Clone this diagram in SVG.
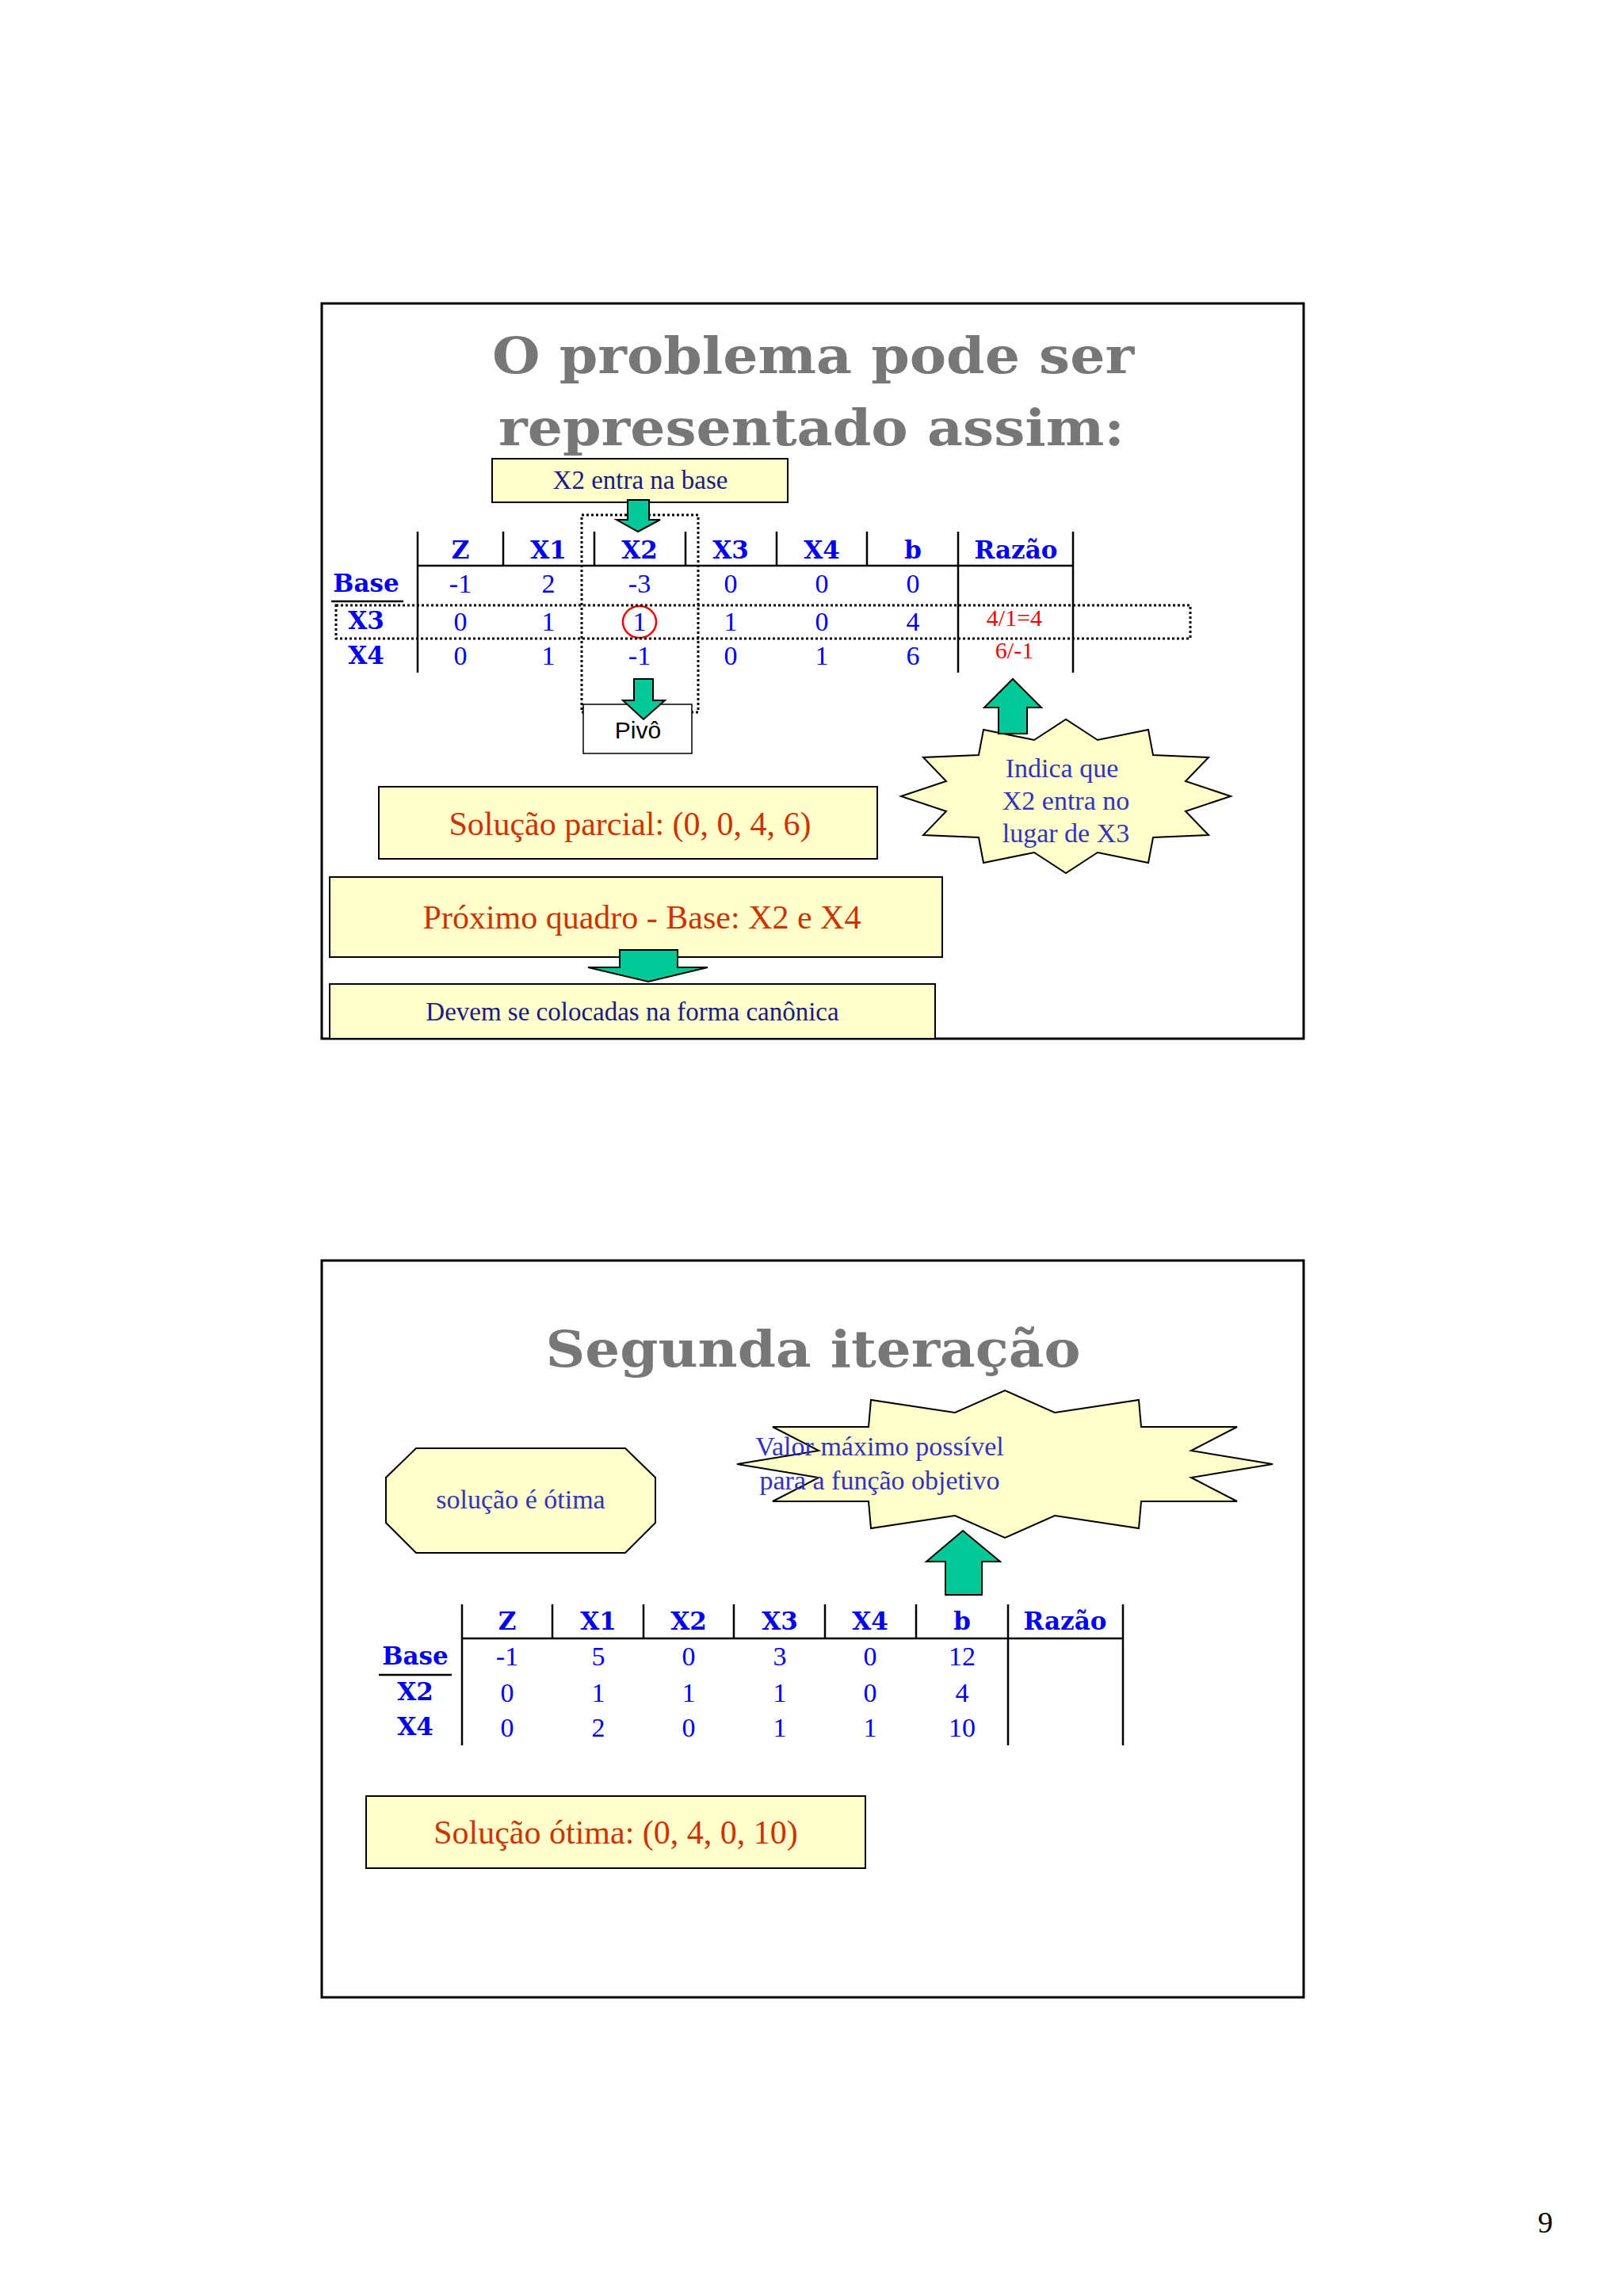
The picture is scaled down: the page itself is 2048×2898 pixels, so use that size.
<svg xmlns="http://www.w3.org/2000/svg" width="2048" height="2898" viewBox="0 0 2048 2898">
<style>
.slide{fill:#fff;stroke:#000;stroke-width:3}
.title{font-family:"DejaVu Serif",serif;font-weight:bold;fill:#777;font-size:64px;text-anchor:middle}
.box{fill:#ffffcc;stroke:#000;stroke-width:2}
.arrow{fill:#00c896;stroke:#000;stroke-width:2}
.hd{font-family:"DejaVu Serif",serif;font-weight:bold;fill:#0000ee;font-size:31px;text-anchor:middle}
.v{font-family:"Liberation Serif",serif;fill:#0000ee;font-size:34px;text-anchor:middle}
.red{font-family:"Liberation Serif",serif;fill:#ee0000;font-size:30px;text-anchor:middle}
.ln{stroke:#000;stroke-width:2.5}
.dot{fill:none;stroke:#000;stroke-width:3;stroke-dasharray:3 3}
.nv{font-family:"Liberation Serif",serif;fill:#1a1a80;font-size:33px;text-anchor:middle}
.bl{font-family:"Liberation Serif",serif;fill:#3333bb;font-size:34px;text-anchor:middle}
.or{font-family:"Liberation Serif",serif;fill:#cc3300;font-size:42px;text-anchor:middle}
</style>
<rect width="2048" height="2898" fill="#fff"/>
<g id="slide1">
<rect class="slide" x="406" y="383" width="1239" height="928"/>
<text class="title" x="1026" y="471" textLength="810" lengthAdjust="spacingAndGlyphs">O problema pode ser</text>
<text class="title" x="1024" y="562" textLength="790" lengthAdjust="spacingAndGlyphs">representado assim:</text>
</g>
<g id="x2-entra">
<rect class="box" x="621" y="579" width="373" height="55"/>
<text class="nv" x="808" y="617">X2 entra na base</text>
</g>
<g id="table1">
<line class="ln" x1="527" y1="671" x2="527" y2="849"/>
<line class="ln" x1="1209" y1="671" x2="1209" y2="849"/>
<line class="ln" x1="1354" y1="671" x2="1354" y2="849"/>
<line class="ln" x1="635" y1="671" x2="635" y2="714"/>
<line class="ln" x1="750" y1="671" x2="750" y2="714"/>
<line class="ln" x1="865" y1="671" x2="865" y2="714"/>
<line class="ln" x1="980" y1="671" x2="980" y2="714"/>
<line class="ln" x1="1094" y1="671" x2="1094" y2="714"/>
<line class="ln" x1="527" y1="714" x2="1354" y2="714"/>
<line class="ln" x1="418" y1="759" x2="509" y2="759"/>
<text class="hd" x="581" y="705">Z</text><text class="hd" x="692" y="705">X1</text><text class="hd" x="807" y="705">X2</text><text class="hd" x="922" y="705">X3</text><text class="hd" x="1037" y="705">X4</text><text class="hd" x="1152" y="705">b</text><text class="hd" x="1282" y="705">Razão</text>
<text class="hd" x="462" y="747">Base</text><text class="hd" x="462" y="794">X3</text><text class="hd" x="462" y="838">X4</text>
<text class="v" x="581" y="748">-1</text><text class="v" x="692" y="748">2</text><text class="v" x="807" y="748">-3</text><text class="v" x="922" y="748">0</text><text class="v" x="1037" y="748">0</text><text class="v" x="1152" y="748">0</text>
<text class="v" x="581" y="796">0</text><text class="v" x="692" y="796">1</text><text class="v" x="807" y="796">1</text><text class="v" x="922" y="796">1</text><text class="v" x="1037" y="796">0</text><text class="v" x="1152" y="796">4</text>
<text class="v" x="581" y="839">0</text><text class="v" x="692" y="839">1</text><text class="v" x="807" y="839">-1</text><text class="v" x="922" y="839">0</text><text class="v" x="1037" y="839">1</text><text class="v" x="1152" y="839">6</text>
<text class="red" x="1280" y="790">4/1=4</text><text class="red" x="1280" y="831">6/-1</text>
<ellipse cx="807" cy="785" rx="21" ry="20" fill="none" stroke="#ee0000" stroke-width="2.5"/>
<rect class="dot" x="734" y="650" width="147" height="249"/>
<rect class="dot" x="424" y="764" width="1078" height="42"/>
</g>
<g id="pivo">
<rect x="736" y="889" width="137" height="62" fill="#fff" stroke="#000" stroke-width="1.5"/>
<text x="805" y="932" font-family="Liberation Sans, sans-serif" font-size="30" text-anchor="middle">Pivô</text>
</g>
<g id="indica">
<polygon class="box" points="1553,1005 1496,1024 1525,1054 1455,1057 1449,1089 1385,1076 1345,1102 1305,1076 1241,1089 1235,1057 1165,1054 1194,1024 1137,1005 1194,986 1165,956 1235,953 1241,921 1305,934 1345,908 1385,934 1449,921 1455,953 1525,956 1496,986"/>
<text class="bl" x="1340" y="981" font-size="32">Indica que</text>
<text class="bl" x="1345" y="1022" font-size="32">X2 entra no</text>
<text class="bl" x="1345" y="1063" font-size="32">lugar de X3</text>
</g>
<g id="parcial">
<rect class="box" x="478" y="993" width="629" height="91"/>
<text class="or" x="795" y="1054">Solução parcial: (0, 0, 4, 6)</text>
</g>
<g id="proximo">
<rect class="box" x="416" y="1107" width="773" height="101"/>
<text class="or" x="810" y="1172">Próximo quadro - Base: X2 e X4</text>
</g>
<g id="devem">
<rect class="box" x="416" y="1242" width="764" height="69"/>
<text class="nv" x="798" y="1288">Devem se colocadas na forma canônica</text>
</g>
<g id="slide2">
<rect class="slide" x="406" y="1591" width="1239" height="930"/>
<text class="title" x="1026" y="1725" textLength="675" lengthAdjust="spacingAndGlyphs">Segunda iteração</text>
</g>
<g id="otima-oct">
<polygon class="box" points="525,1828 789,1828 827,1865 827,1922 789,1960 525,1960 487,1922 487,1865"/>
<text class="bl" x="657" y="1904" font-size="32">solução é ótima</text>
</g>
<g id="valor">
<polygon class="box" points="1606,1848 1503,1865 1561,1895 1440,1895 1437,1929 1331,1913 1268,1941 1205,1913 1099,1929 1096,1895 975,1895 1033,1865 930,1848 1033,1831 975,1801 1096,1801 1099,1767 1205,1783 1268,1755 1331,1783 1437,1767 1440,1801 1561,1801 1503,1831"/>
<text class="bl" x="1110" y="1837" font-size="32" text-anchor="start">Valor máximo possível</text>
<text class="bl" x="1110" y="1880" font-size="32" text-anchor="start">para a função objetivo</text>
</g>
<g id="table2">
<line class="ln" x1="583" y1="2025" x2="583" y2="2203"/>
<line class="ln" x1="1272" y1="2025" x2="1272" y2="2203"/>
<line class="ln" x1="1417" y1="2025" x2="1417" y2="2203"/>
<line class="ln" x1="697" y1="2025" x2="697" y2="2068"/>
<line class="ln" x1="812" y1="2025" x2="812" y2="2068"/>
<line class="ln" x1="926" y1="2025" x2="926" y2="2068"/>
<line class="ln" x1="1041" y1="2025" x2="1041" y2="2068"/>
<line class="ln" x1="1156" y1="2025" x2="1156" y2="2068"/>
<line class="ln" x1="583" y1="2068" x2="1417" y2="2068"/>
<line class="ln" x1="478" y1="2114" x2="570" y2="2114"/>
<text class="hd" x="640" y="2057">Z</text><text class="hd" x="755" y="2057">X1</text><text class="hd" x="869" y="2057">X2</text><text class="hd" x="984" y="2057">X3</text><text class="hd" x="1098" y="2057">X4</text><text class="hd" x="1214" y="2057">b</text><text class="hd" x="1344" y="2057">Razão</text>
<text class="hd" x="524" y="2101">Base</text><text class="hd" x="524" y="2146">X2</text><text class="hd" x="524" y="2190">X4</text>
<text class="v" x="640" y="2102">-1</text><text class="v" x="755" y="2102">5</text><text class="v" x="869" y="2102">0</text><text class="v" x="984" y="2102">3</text><text class="v" x="1098" y="2102">0</text><text class="v" x="1214" y="2102">12</text>
<text class="v" x="640" y="2148">0</text><text class="v" x="755" y="2148">1</text><text class="v" x="869" y="2148">1</text><text class="v" x="984" y="2148">1</text><text class="v" x="1098" y="2148">0</text><text class="v" x="1214" y="2148">4</text>
<text class="v" x="640" y="2192">0</text><text class="v" x="755" y="2192">2</text><text class="v" x="869" y="2192">0</text><text class="v" x="984" y="2192">1</text><text class="v" x="1098" y="2192">1</text><text class="v" x="1214" y="2192">10</text>
</g>
<g id="otima-sol">
<rect class="box" x="462" y="2267" width="630" height="91"/>
<text class="or" x="777" y="2327">Solução ótima: (0, 4, 0, 10)</text>
</g>
<g id="connectors">
<polygon class="arrow" points="792,631 819,631 819,656 833,656 805,671 778,656 792,656"/>
<polygon class="arrow" points="800,857 824,857 824,884 839,884 812,908 786,884 800,884"/>
<polygon class="arrow" points="1260,926 1296,926 1296,893 1314,893 1278,857 1242,893 1260,893"/>
<polygon class="arrow" points="782,1199 855,1199 855,1221 893,1221 818,1239 742,1221 782,1221"/>
<polygon class="arrow" points="1193,2013 1239,2013 1239,1971 1262,1971 1215,1932 1169,1971 1193,1971"/>
</g>
<text x="1950" y="2818" font-family="Liberation Serif, serif" font-size="38" text-anchor="middle">9</text>
</svg>
